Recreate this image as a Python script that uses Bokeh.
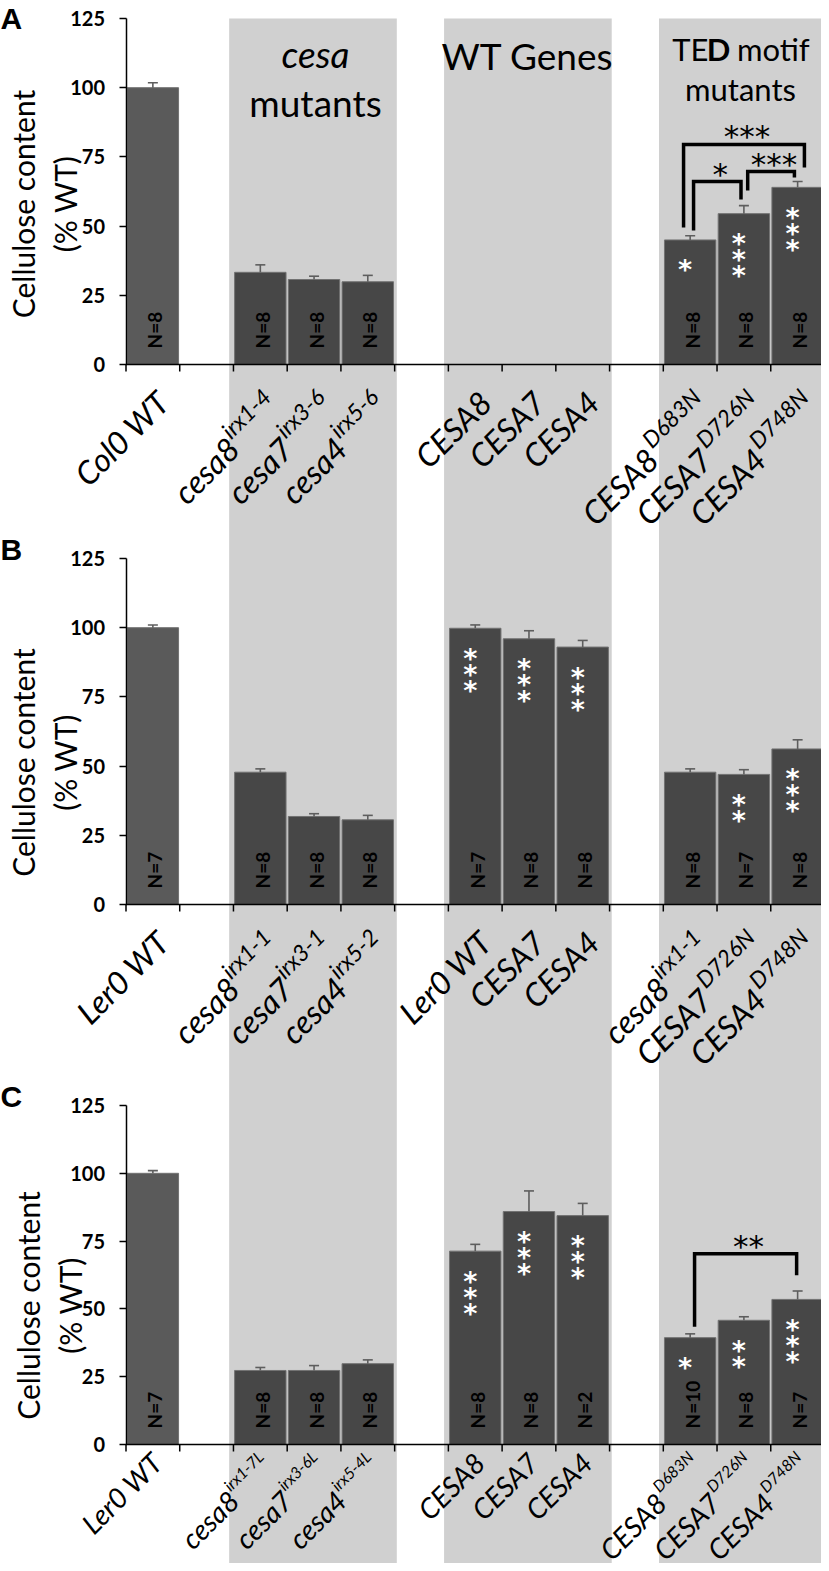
import math
from bokeh.plotting import figure
from bokeh.models import Range1d, LinearAxis, FixedTicker
from bokeh.core.properties import value
from bokeh.embed import file_html
from bokeh.resources import INLINE

# ---------------- data ----------------
slots = [0, 2, 3, 4, 6, 7, 8, 10, 11, 12]          # category slot of every bar
group_starts = [2, 6, 10]                          # shaded groups
y_ticks = [0, 25, 50, 75, 100, 125]

a_labels = ["Col0 WT", "cesa8", "cesa7", "cesa4", "CESA8", "CESA7", "CESA4", "CESA8", "CESA7", "CESA4"]
a_sups = ["", "irx1-4", "irx3-6", "irx5-6", "", "", "", "D683N", "D726N", "D748N"]
a_values = [100.0, 33.3, 30.7, 29.9, None, None, None, 45.0, 54.5, 64.0]
a_errors = [1.8, 2.7, 1.2, 2.3, None, None, None, 1.5, 2.9, 2.1]
a_n = ["N=8", "N=8", "N=8", "N=8", "", "", "", "N=8", "N=8", "N=8"]
a_stars = [0, 0, 0, 0, 0, 0, 0, 1, 3, 3]

b_labels = ["Ler0 WT", "cesa8", "cesa7", "cesa4", "Ler0 WT", "CESA7", "CESA4", "cesa8", "CESA7", "CESA4"]
b_sups = ["", "irx1-1", "irx3-1", "irx5-2", "", "", "", "irx1-1", "D726N", "D748N"]
b_values = [100.0, 47.8, 31.8, 30.6, 99.8, 96.0, 93.0, 47.8, 47.0, 56.2]
b_errors = [1.0, 1.2, 1.0, 1.6, 1.2, 2.9, 2.4, 1.2, 1.7, 3.3]
b_n = ["N=7", "N=8", "N=8", "N=8", "N=7", "N=8", "N=8", "N=8", "N=7", "N=8"]
b_stars = [0, 0, 0, 0, 3, 3, 3, 0, 2, 3]

c_labels = ["Ler0 WT", "cesa8", "cesa7", "cesa4", "CESA8", "CESA7", "CESA4", "CESA8", "CESA7", "CESA4"]
c_sups = ["", "irx1-7L", "irx3-6L", "irx5-4L", "", "", "", "D683N", "D726N", "D748N"]
c_values = [100.0, 27.3, 27.3, 29.8, 71.3, 85.9, 84.4, 39.4, 45.8, 53.5]
c_errors = [1.0, 1.1, 1.8, 1.4, 2.5, 7.6, 4.5, 1.4, 1.3, 3.1]
c_n = ["N=7", "N=8", "N=8", "N=8", "N=8", "N=8", "N=2", "N=10", "N=8", "N=7"]
c_stars = [0, 0, 0, 0, 3, 3, 3, 1, 2, 3]

# pairwise comparisons: (left bar, right bar, label)
a_pairs = [(7, 9, "***"), (7, 8, "*"), (8, 9, "***")]
b_pairs = []
c_pairs = [(7, 9, "**")]

# ---------------- layout (pixels) ----------------
W, H, OFF = 821, 1563, 0
CW = 53.73
X0 = 125.5 - OFF
PANEL_Y = {"A": (364.0, 18.0), "B": (904.0, 558.0), "C": (1444.0, 1105.0)}
LABEL_FONTS = {"A": (32, 23), "B": (32, 23), "C": (28, 16)}
LABEL_SHIFT = {"A": (0, 0), "B": (0, 0), "C": (-6, -19)}   # screen px (right, down)

# bracket geometry in value units: top, left leg end, right leg end, leg px offsets
a_bracket_geo = [(79.5, 49.5, 71.2, -6.6, 6.8), (66.1, 48.4, 59.6, 3.4, -2.9), (69.7, 62.9, 67.6, 3.8, -3.2)]
c_bracket_geo = [(70.3, 43.4, 62.4, 4.4, -1.0)]

BAR_FILL = "#474747"
WT_FILL = "#5a5a5a"
BAND = "#d0d0d0"

LATO_W = {'i': 0.23, 'r': 0.36, 'x': 0.47, '-': 0.35, 'L': 0.48, 'D': 0.74, 'N': 0.76,
          'T': 0.57, 'E': 0.55, ' ': 0.19, 'm': 0.85, 'o': 0.56, 't': 0.35, 'f': 0.33}
for d in "0123456789":
    LATO_W[d] = 0.58


def text_w(s, size):
    return sum(LATO_W.get(c, 0.55) for c in s) * size


def scale(name):
    y0, y125 = PANEL_Y[name]
    return (y0 - y125) / 125.0


def xdata(page_x):
    return (page_x - OFF - X0) / CW


def dx(px):
    return px / CW


def ydata(name, page_y):
    return (PANEL_Y[name][0] - page_y) / scale(name)


def dy(name, px):
    return px / scale(name)


x_lo = -X0 / CW
x_hi = (W - X0) / CW

p = figure(width=W, height=H, x_range=Range1d(x_lo, x_hi), y_range=Range1d(0, H),
           x_axis_type=None, y_axis_type=None, toolbar_location=None,
           output_backend="svg", min_border=0, outline_line_color=None,
           background_fill_color="white", border_fill_color="white")

ranges = {}
for name, (y0, y125) in PANEL_Y.items():
    s = (y0 - y125) / 125.0
    start = -(H - (y0 - OFF)) / s
    ranges[name] = Range1d(start, start + H / s)
p.extra_y_ranges = ranges

# shaded group bands (run through all three panels)
band_l = [g - 0.08 for g in group_starts]
band_r = [g + 3.04 for g in group_starts[:-1]] + [x_hi + 0.1]
p.quad(left=band_l, right=band_r, bottom=ranges["A"].start, top=125, y_range_name="A",
       fill_color=BAND, line_color=None)

R2 = math.sqrt(0.5)


def draw_panel(name, labels, sups, values, errors, ns, stars, pairs, geo):
    f_main, f_sup = LABEL_FONTS[name]
    sh_x, sh_y = LABEL_SHIFT[name]
    sup_rise = 0.38 * f_main
    idx = [i for i, v in enumerate(values) if v is not None]
    xs = [slots[i] + 0.5 for i in idx]
    tops = [values[i] for i in idx]
    errs = [errors[i] for i in idx]
    fills = [WT_FILL if i == 0 else BAR_FILL for i in idx]
    p.vbar(x=xs, top=tops, bottom=0, width=0.957, fill_color=fills, line_color="#727272",
           line_width=1, y_range_name=name)
    # error bars (upper only)
    ends = [t + e for t, e in zip(tops, errs)]
    p.segment(x0=xs, y0=tops, x1=xs, y1=ends, line_color="#5e5e5e", line_width=1.6,
              y_range_name=name)
    p.segment(x0=[x - dx(5) for x in xs], y0=ends, x1=[x + dx(5) for x in xs], y1=ends,
              line_color="#5e5e5e", line_width=1.6, y_range_name=name)
    # N labels
    p.text(x=[x + dx(2) for x in xs], y=[dy(name, 16)] * len(xs), text=[ns[i] for i in idx],
           angle=math.pi / 2, text_align="left", text_baseline="middle",
           text_font=value("Lato"), text_font_style="bold", text_font_size=value("19px"),
           text_color="black", y_range_name=name)
    # white significance stars inside bars
    sx, sy = [], []
    for i in idx:
        for j in range(stars[i]):
            sx.append(slots[i] + 0.5 - dx(5))
            centre = values[i] - dy(name, 24 + 16 * j)
            sy.append(centre - dy(name, 6))
    if sx:
        p.text(x=sx, y=sy, text=["*"] * len(sx), text_align="center", text_baseline="alphabetic",
               text_font=value("DejaVu Sans"), text_font_style="bold", text_font_size=value("27px"),
               text_color="white", y_range_name=name)
    # x axis line and ticks
    p.segment(x0=[0], y0=[0], x1=[x_hi], y1=[0], line_color="black", line_width=1.6,
              y_range_name=name)
    ticks = list(range(14))
    p.segment(x0=ticks, y0=[0] * 14, x1=ticks, y1=[-dy(name, 7)] * 14, line_color="black",
              line_width=1.5, y_range_name=name)
    # category labels (45 deg, with superscripts)
    mx, my, mt, ux, uy, ut = [], [], [], [], [], []
    for i, (lab, sup) in enumerate(zip(labels, sups)):
        cx = slots[i] + 0.5 + dx(sh_x)
        base = -dy(name, sh_y)
        if sup:
            ex, ey = cx + dx(6), base - dy(name, 28)
            ux.append(ex); uy.append(ey); ut.append(sup)
            w = text_w(sup, f_sup)
            mx.append(ex + dx(R2 * (sup_rise - w)))
            my.append(ey - dy(name, R2 * (sup_rise + w)))
            mt.append(lab)
        else:
            mx.append(cx + dx(10)); my.append(base - dy(name, 32)); mt.append(lab)
    p.text(x=mx, y=my, text=mt, angle=math.pi / 4, text_align="right", text_baseline="alphabetic",
           text_font=value("Lato"), text_font_style="italic", text_font_size=value(f"{f_main}px"),
           text_color="black", y_range_name=name)
    if ut:
        p.text(x=ux, y=uy, text=ut, angle=math.pi / 4, text_align="right", text_baseline="alphabetic",
               text_font=value("Lato"), text_font_style="italic", text_font_size=value(f"{f_sup}px"),
               text_color="black", y_range_name=name)
    # significance brackets
    for (li, ri, lab), (top, lb, rb, lo, ro) in zip(pairs, geo):
        xl = slots[li] + 0.5 + dx(lo)
        xr = slots[ri] + 0.5 + dx(ro)
        p.line(x=[xl, xl, xr, xr], y=[lb, top, top, rb], line_color="black", line_width=3.5,
               line_join="miter", y_range_name=name)
        p.text(x=[(xl + xr) / 2 + dx(3)], y=[top + dy(name, 8)], text=[lab],
               text_align="center", text_baseline="alphabetic", text_font=value("DejaVu Sans"),
               text_font_size=value("31px"), text_color="black", y_range_name=name)
    # y axis
    ax = LinearAxis(y_range_name=name, fixed_location=0, bounds=(0, 125),
                    ticker=FixedTicker(ticks=y_ticks))
    ax.axis_line_width = 1.5
    ax.axis_line_color = "black"
    ax.major_tick_line_width = 1.5
    ax.major_tick_out = 7
    ax.major_tick_in = 0
    ax.minor_tick_out = 0
    ax.minor_tick_in = 0
    ax.major_label_text_font = "Lato"
    ax.major_label_text_font_style = "bold"
    ax.major_label_text_font_size = "20px"
    ax.major_label_text_color = "black"
    ax.major_label_standoff = 14
    p.add_layout(ax, "left")


draw_panel("A", a_labels, a_sups, a_values, a_errors, a_n, a_stars, a_pairs, a_bracket_geo)
draw_panel("B", b_labels, b_sups, b_values, b_errors, b_n, b_stars, b_pairs, [])
draw_panel("C", c_labels, c_sups, c_values, c_errors, c_n, c_stars, c_pairs, c_bracket_geo)

# y-axis titles
ylab_pos = {"A": (22, 64, 203.5), "B": (22, 64, 762), "C": (27, 69, 1305)}
for name, (x1, x2, yc) in ylab_pos.items():
    p.text(x=[xdata(x1), xdata(x2)], y=[ydata(name, yc)] * 2, text=["Cellulose content", "(% WT)"],
           angle=math.pi / 2, text_align="center", text_baseline="middle",
           text_font=value("Lato"), text_font_size=value("30px"), text_color="black",
           y_range_name=name)

# panel letters
letter_y = {"A": 17.5, "B": 549, "C": 1096}
for name, yc in letter_y.items():
    p.text(x=[xdata(0)], y=[ydata(name, yc)], text=[name], text_align="left",
           text_baseline="middle", text_font=value("Liberation Sans"), text_font_style="bold",
           text_font_size=value("30px"), text_color="black", y_range_name=name)

# group headers (panel A)
HF = 37
p.text(x=[xdata(315)], y=[ydata("A", 53)], text=["cesa"], text_align="center",
       text_baseline="alphabetic", text_font=value("Lato"), text_font_style="italic",
       text_font_size=value(f"{HF}px"), y_range_name="A")
p.text(x=[xdata(315), xdata(527)], y=[ydata("A", 102), ydata("A", 55)], text=["mutants", "WT Genes"],
       text_align="center", text_baseline="alphabetic", text_font=value("Lato"),
       text_font_size=value(f"{HF}px"), y_range_name="A")
TF = 31
w_te = text_w("TE", TF)
w_d = 0.75 * TF
w_sp = 0.22 * TF
w_motif = text_w("motif", TF)
x_start = 740 - (w_te + w_d + w_sp + w_motif) / 2
p.text(x=[xdata(x_start), xdata(x_start + w_te + w_d + w_sp)], y=[ydata("A", 48)] * 2,
       text=["TE", "motif"], text_align="left", text_baseline="alphabetic", text_font=value("Lato"),
       text_font_size=value(f"{TF}px"), y_range_name="A")
p.text(x=[xdata(x_start + w_te)], y=[ydata("A", 48)], text=["D"], text_align="left",
       text_baseline="alphabetic", text_font=value("Lato"), text_font_style="bold",
       text_font_size=value(f"{TF}px"), y_range_name="A")
p.text(x=[xdata(740)], y=[ydata("A", 88)], text=["mutants"], text_align="center",
       text_baseline="alphabetic", text_font=value("Lato"), text_font_size=value(f"{TF}px"),
       y_range_name="A")

open("out.html", "w").write(file_html(p, INLINE))
